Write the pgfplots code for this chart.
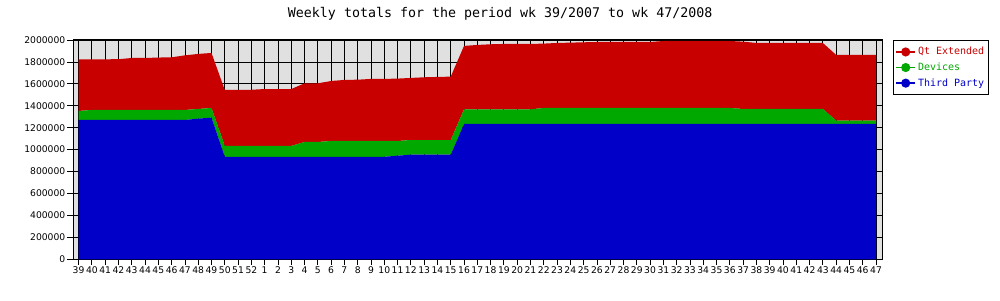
\documentclass[border=0pt]{standalone}
\usepackage{pgfplots}
\usepackage{pgfplotstable}
\pgfplotsset{compat=1.18}
\usepackage{fontspec}
\setmainfont{DejaVu Sans}
\newfontfamily\monofont{DejaVu Sans Mono}
\definecolor{qtred}{RGB}{200,0,0}
\definecolor{devgreen}{RGB}{0,168,0}
\definecolor{tpblue}{RGB}{0,0,200}
\definecolor{bggray}{RGB}{224,224,224}

\pgfplotstableread{
x TP Dev Qt
0 1271000 82000 471000
1 1271000 91000 462000
2 1271000 91000 462000
3 1271000 91000 463000
4 1271000 91000 474000
5 1271000 91000 474000
6 1271000 91000 478000
7 1271000 91000 480000
8 1271000 91000 498000
9 1283000 88000 502000
10 1292000 88000 502000
11 935000 99000 510000
12 935000 99000 510000
13 935000 99000 512000
14 935000 99000 519000
15 935000 99000 519000
16 935000 99000 519000
17 935000 135000 535000
18 935000 135000 535000
19 935000 144000 547000
20 935000 144000 557000
21 935000 144000 559000
22 935000 144000 566000
23 935000 144000 566000
24 945000 134000 569000
25 954000 134000 566000
26 954000 134000 572000
27 954000 134000 575000
28 954000 134000 578000
29 1234000 134000 578000
30 1234000 134000 587000
31 1234000 134000 593000
32 1234000 134000 596000
33 1234000 134000 596000
34 1234000 134000 596000
35 1234000 146000 587000
36 1234000 146000 593000
37 1234000 146000 596000
38 1234000 146000 599000
39 1234000 146000 602000
40 1234000 146000 602000
41 1234000 146000 602000
42 1234000 146000 602000
43 1234000 146000 602000
44 1234000 146000 611000
45 1234000 146000 611000
46 1234000 146000 611000
47 1234000 146000 611000
48 1234000 146000 611000
49 1234000 146000 611000
50 1234000 137000 614000
51 1234000 137000 602000
52 1234000 137000 602000
53 1234000 137000 602000
54 1234000 137000 602000
55 1234000 137000 602000
56 1234000 137000 602000
57 1234000 31000 599000
58 1234000 31000 599000
59 1234000 31000 599000
60 1234000 31000 599000
}\data

\begin{document}
\begin{tikzpicture}
\begin{axis}[
  name=main,
  at={(73pt,40.7pt)}, anchor=south west,
  scale only axis, width=809pt, height=219.3pt,
  xmin=-0.42, xmax=60.45, ymin=0, ymax=2000000,
  xtick={0,...,60},
  xticklabels={39,40,41,42,43,44,45,46,47,48,49,50,51,52,1,2,3,4,5,6,7,8,9,10,11,12,13,14,15,16,17,18,19,20,21,22,23,24,25,26,27,28,29,30,31,32,33,34,35,36,37,38,39,40,41,42,43,44,45,46,47},
  ytick={0,200000,...,2000000},
  scaled y ticks=false,
  /pgf/number format/.cd, fixed, 1000 sep={}, assume math mode=true,
  /pgfplots/.cd,
  xtick pos=bottom, ytick pos=left,
  tick align=outside, major tick length=5.5pt,
  tick style={black, line width=0.8pt},
  ticklabel style={font=\fontsize{9.2}{10}\selectfont},
  xticklabel style={inner sep=1pt, yshift=-1pt},
  yticklabel style={inner sep=2pt},
  grid=major, major grid style={black, line width=0.8pt},
  axis line style={black, line width=1pt},
  axis background/.style={fill=bggray},
  stack plots=y,
  title={\monofont\fontsize{13.3}{14}\selectfont Weekly totals for the period wk 39/2007 to wk 47/2008},
  title style={at={(axis description cs:0.528,1)}, anchor=base, yshift=16pt},
  reverse legend,
  legend cell align=left,
  legend style={at={(1,1)}, anchor=north west, xshift=11pt, draw=black, line width=0.8pt,
    font=\monofont\fontsize{10}{12}\selectfont, inner xsep=2pt, inner ysep=5pt,
    row sep=2.5pt, fill=white},
]
\addplot[fill=tpblue, draw=none,
  legend image code/.code={\draw[tpblue, line width=1.6pt] (0pt,0pt) -- (19pt,0pt); \fill[tpblue] (9.5pt,0pt) circle (4.6pt);}]
  table[x=x, y=TP] {\data} \closedcycle;
\addlegendentry{\textcolor{tpblue}{Third Party}}
\addplot[fill=devgreen, draw=none,
  legend image code/.code={\draw[devgreen, line width=1.6pt] (0pt,0pt) -- (19pt,0pt); \fill[devgreen] (9.5pt,0pt) circle (4.6pt);}]
  table[x=x, y=Dev] {\data} \closedcycle;
\addlegendentry{\textcolor{devgreen}{Devices}}
\addplot[fill=qtred, draw=none,
  legend image code/.code={\draw[qtred, line width=1.6pt] (0pt,0pt) -- (19pt,0pt); \fill[qtred] (9.5pt,0pt) circle (4.6pt);}]
  table[x=x, y=Qt] {\data} \closedcycle;
\addlegendentry{\textcolor{qtred}{Qt Extended}}
\end{axis}
\pgfresetboundingbox
\path[use as bounding box] (0pt,0pt) rectangle (1000pt,300pt);
\end{tikzpicture}
\end{document}
